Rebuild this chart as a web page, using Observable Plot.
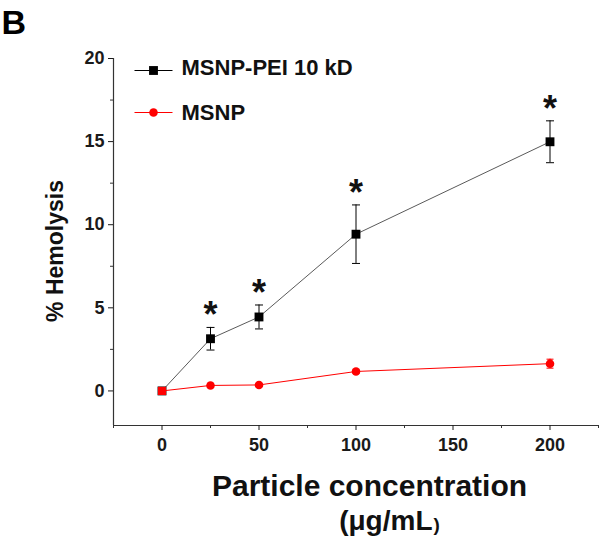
<!DOCTYPE html>
<html>
<head>
<meta charset="utf-8">
<script src="https://cdn.jsdelivr.net/npm/d3@7"></script>
<script src="https://cdn.jsdelivr.net/npm/@observablehq/plot@0.6"></script>
<style>
  html, body { margin: 0; padding: 0; background: #fff; }
  #chart svg { display: block; }
</style>
</head>
<body>
<div id="chart"></div>
<script>
// ---- data ----
const concentrations = [0, 25, 50, 100, 200];
const peiValues = [0, 3.14, 4.45, 9.43, 14.99];
const peiErrors = [0, 0.68, 0.72, 1.76, 1.26];
const msnpValues = [0, 0.33, 0.36, 1.17, 1.64];
const msnpErrors = [0, 0.05, 0.06, 0.1, 0.27];
const significant = [false, true, true, true, true];
const seriesNames = ["MSNP-PEI 10 kD", "MSNP"];

const xDomain = [-25, 225];
const yDomain = [-2.08, 20];
const xMajorTicks = [0, 50, 100, 150, 200];
const xMinorTicks = [-25, 25, 75, 125, 175, 225];
const yMajorTicks = [0, 5, 10, 15, 20];
const yMinorTicks = [2.5, 7.5, 12.5, 17.5];

const xTitle = "Particle concentration";
const xUnit = "(μg/mL";
const xUnitClose = ")";
const yTitle = "% Hemolysis";
const panelLabel = "B";

// ---- build tables ----
const pei = concentrations.map((x, i) => ({x, v: peiValues[i], e: peiErrors[i], sig: significant[i]}));
const msnp = concentrations.map((x, i) => ({x, v: msnpValues[i], e: msnpErrors[i]}));

const BLACK = "#000";
const LINEGRAY = "#5a5a5a";
const RED = "#ff0000";
const AXIS = "#333";
const FONT = "'Liberation Sans', Arial, Helvetica, sans-serif";

const hline = (w) => ({draw(ctx) { ctx.moveTo(-w, 0); ctx.lineTo(w, 0); }});

const chart = Plot.plot({
  width: 601,
  height: 539,
  marginLeft: 113,
  marginRight: 3,
  marginTop: 58,
  marginBottom: 114,
  style: {fontFamily: FONT, background: "#fff", overflow: "visible"},
  x: {domain: xDomain, axis: null, label: null},
  y: {domain: yDomain, axis: null, label: null},
  marks: [
    // axis lines
    Plot.ruleX([xDomain[0]], {y1: yDomain[0], y2: yDomain[1], stroke: AXIS, strokeWidth: 1.2}),
    Plot.ruleY([yDomain[0]], {x1: xDomain[0], x2: xDomain[1], stroke: AXIS, strokeWidth: 1.2}),
    // ticks
    Plot.axisX(xMajorTicks, {anchor: "bottom", tickSize: 5, tickPadding: 8, fontSize: 18, fontWeight: "bold", color: "#1a1a1a", label: null, tickFormat: d => String(d)}),
    Plot.axisX(xMinorTicks, {anchor: "bottom", tickSize: 3, label: null, tickFormat: () => "", color: AXIS}),
    Plot.axisY(yMajorTicks, {anchor: "left", tickSize: 5, tickPadding: 4, fontSize: 18, fontWeight: "bold", color: "#1a1a1a", label: null, tickFormat: d => String(d)}),
    Plot.axisY(yMinorTicks, {anchor: "left", tickSize: 3, label: null, tickFormat: () => "", color: AXIS}),

    // MSNP-PEI series
    Plot.line(pei, {x: "x", y: "v", stroke: LINEGRAY, strokeWidth: 1}),
    Plot.ruleX(pei.filter(d => d.e > 0), {x: "x", y1: d => d.v - d.e, y2: d => d.v + d.e, stroke: BLACK, strokeWidth: 1}),
    Plot.dot(pei.filter(d => d.e > 0), {x: "x", y: d => d.v + d.e, symbol: hline(4), stroke: BLACK, fill: "none", strokeWidth: 1}),
    Plot.dot(pei.filter(d => d.e > 0), {x: "x", y: d => d.v - d.e, symbol: hline(4), stroke: BLACK, fill: "none", strokeWidth: 1}),
    Plot.dot(pei, {x: "x", y: "v", symbol: "square", r: 5, fill: BLACK, stroke: "none"}),
    Plot.text(pei.filter(d => d.sig), {x: "x", y: d => d.v + d.e, text: () => "*", fontSize: 36, fontWeight: "bold", fill: "#111", lineAnchor: "bottom", dy: 0}),

    // MSNP series
    Plot.line(msnp, {x: "x", y: "v", stroke: RED, strokeWidth: 1}),
    Plot.ruleX(msnp.filter(d => d.e > 0), {x: "x", y1: d => d.v - d.e, y2: d => d.v + d.e, stroke: RED, strokeWidth: 1}),
    Plot.dot(msnp.filter(d => d.e > 0), {x: "x", y: d => d.v + d.e, symbol: hline(3.5), stroke: RED, fill: "none", strokeWidth: 1}),
    Plot.dot(msnp.filter(d => d.e > 0), {x: "x", y: d => d.v - d.e, symbol: hline(3.5), stroke: RED, fill: "none", strokeWidth: 1}),
    Plot.dot(msnp.filter(d => d.x !== 0), {x: "x", y: "v", symbol: "circle", r: 4.3, fill: RED, stroke: "none"}),
    Plot.dot(msnp.filter(d => d.x === 0), {x: "x", y: "v", symbol: "square", r: 4.6, fill: RED, stroke: "none"}),

    // legend
    Plot.dot([seriesNames[0]], {frameAnchor: "top-left", dx: 40, dy: 12, symbol: hline(19), stroke: BLACK, fill: "none", strokeWidth: 1}),
    Plot.dot([seriesNames[0]], {frameAnchor: "top-left", dx: 40, dy: 12, symbol: "square", r: 5, fill: BLACK, stroke: "none"}),
    Plot.text([seriesNames[0]], {frameAnchor: "top-left", dx: 68, dy: 16.5, textAnchor: "start", lineAnchor: "bottom", fontSize: 22, fontWeight: "bold", fill: "#111"}),
    Plot.dot([seriesNames[1]], {frameAnchor: "top-left", dx: 40, dy: 54, symbol: hline(19), stroke: RED, fill: "none", strokeWidth: 1}),
    Plot.dot([seriesNames[1]], {frameAnchor: "top-left", dx: 40, dy: 54, symbol: "circle", r: 4.3, fill: RED, stroke: "none"}),
    Plot.text([seriesNames[1]], {frameAnchor: "top-left", dx: 68, dy: 61.5, textAnchor: "start", lineAnchor: "bottom", fontSize: 22, fontWeight: "bold", fill: "#111"}),

    // axis titles
    Plot.text([yTitle], {frameAnchor: "left", dx: -58, dy: 9, rotate: -90, textAnchor: "middle", lineAnchor: "middle", fontSize: 23, fontWeight: "bold", fill: "#111"}),
    Plot.text([xTitle], {frameAnchor: "bottom", dx: 13.5, dy: 70, textAnchor: "middle", lineAnchor: "bottom", fontSize: 30, fontWeight: "bold", fill: "#111"}),
    Plot.text([xUnit], {frameAnchor: "bottom", dx: 76.5, dy: 104, textAnchor: "end", lineAnchor: "bottom", fontSize: 28, fontWeight: "bold", fill: "#111"}),
    Plot.text([xUnitClose], {frameAnchor: "bottom", dx: 77.5, dy: 105, textAnchor: "start", lineAnchor: "bottom", fontSize: 19, fontWeight: "bold", fill: "#111"}),

    // panel label
    Plot.text([panelLabel], {frameAnchor: "top-left", dx: -112, dy: -25, textAnchor: "start", lineAnchor: "bottom", fontSize: 34, fontWeight: "bold", fill: "#000"})
  ]
});

document.getElementById("chart").appendChild(chart);
</script>
</body>
</html>
